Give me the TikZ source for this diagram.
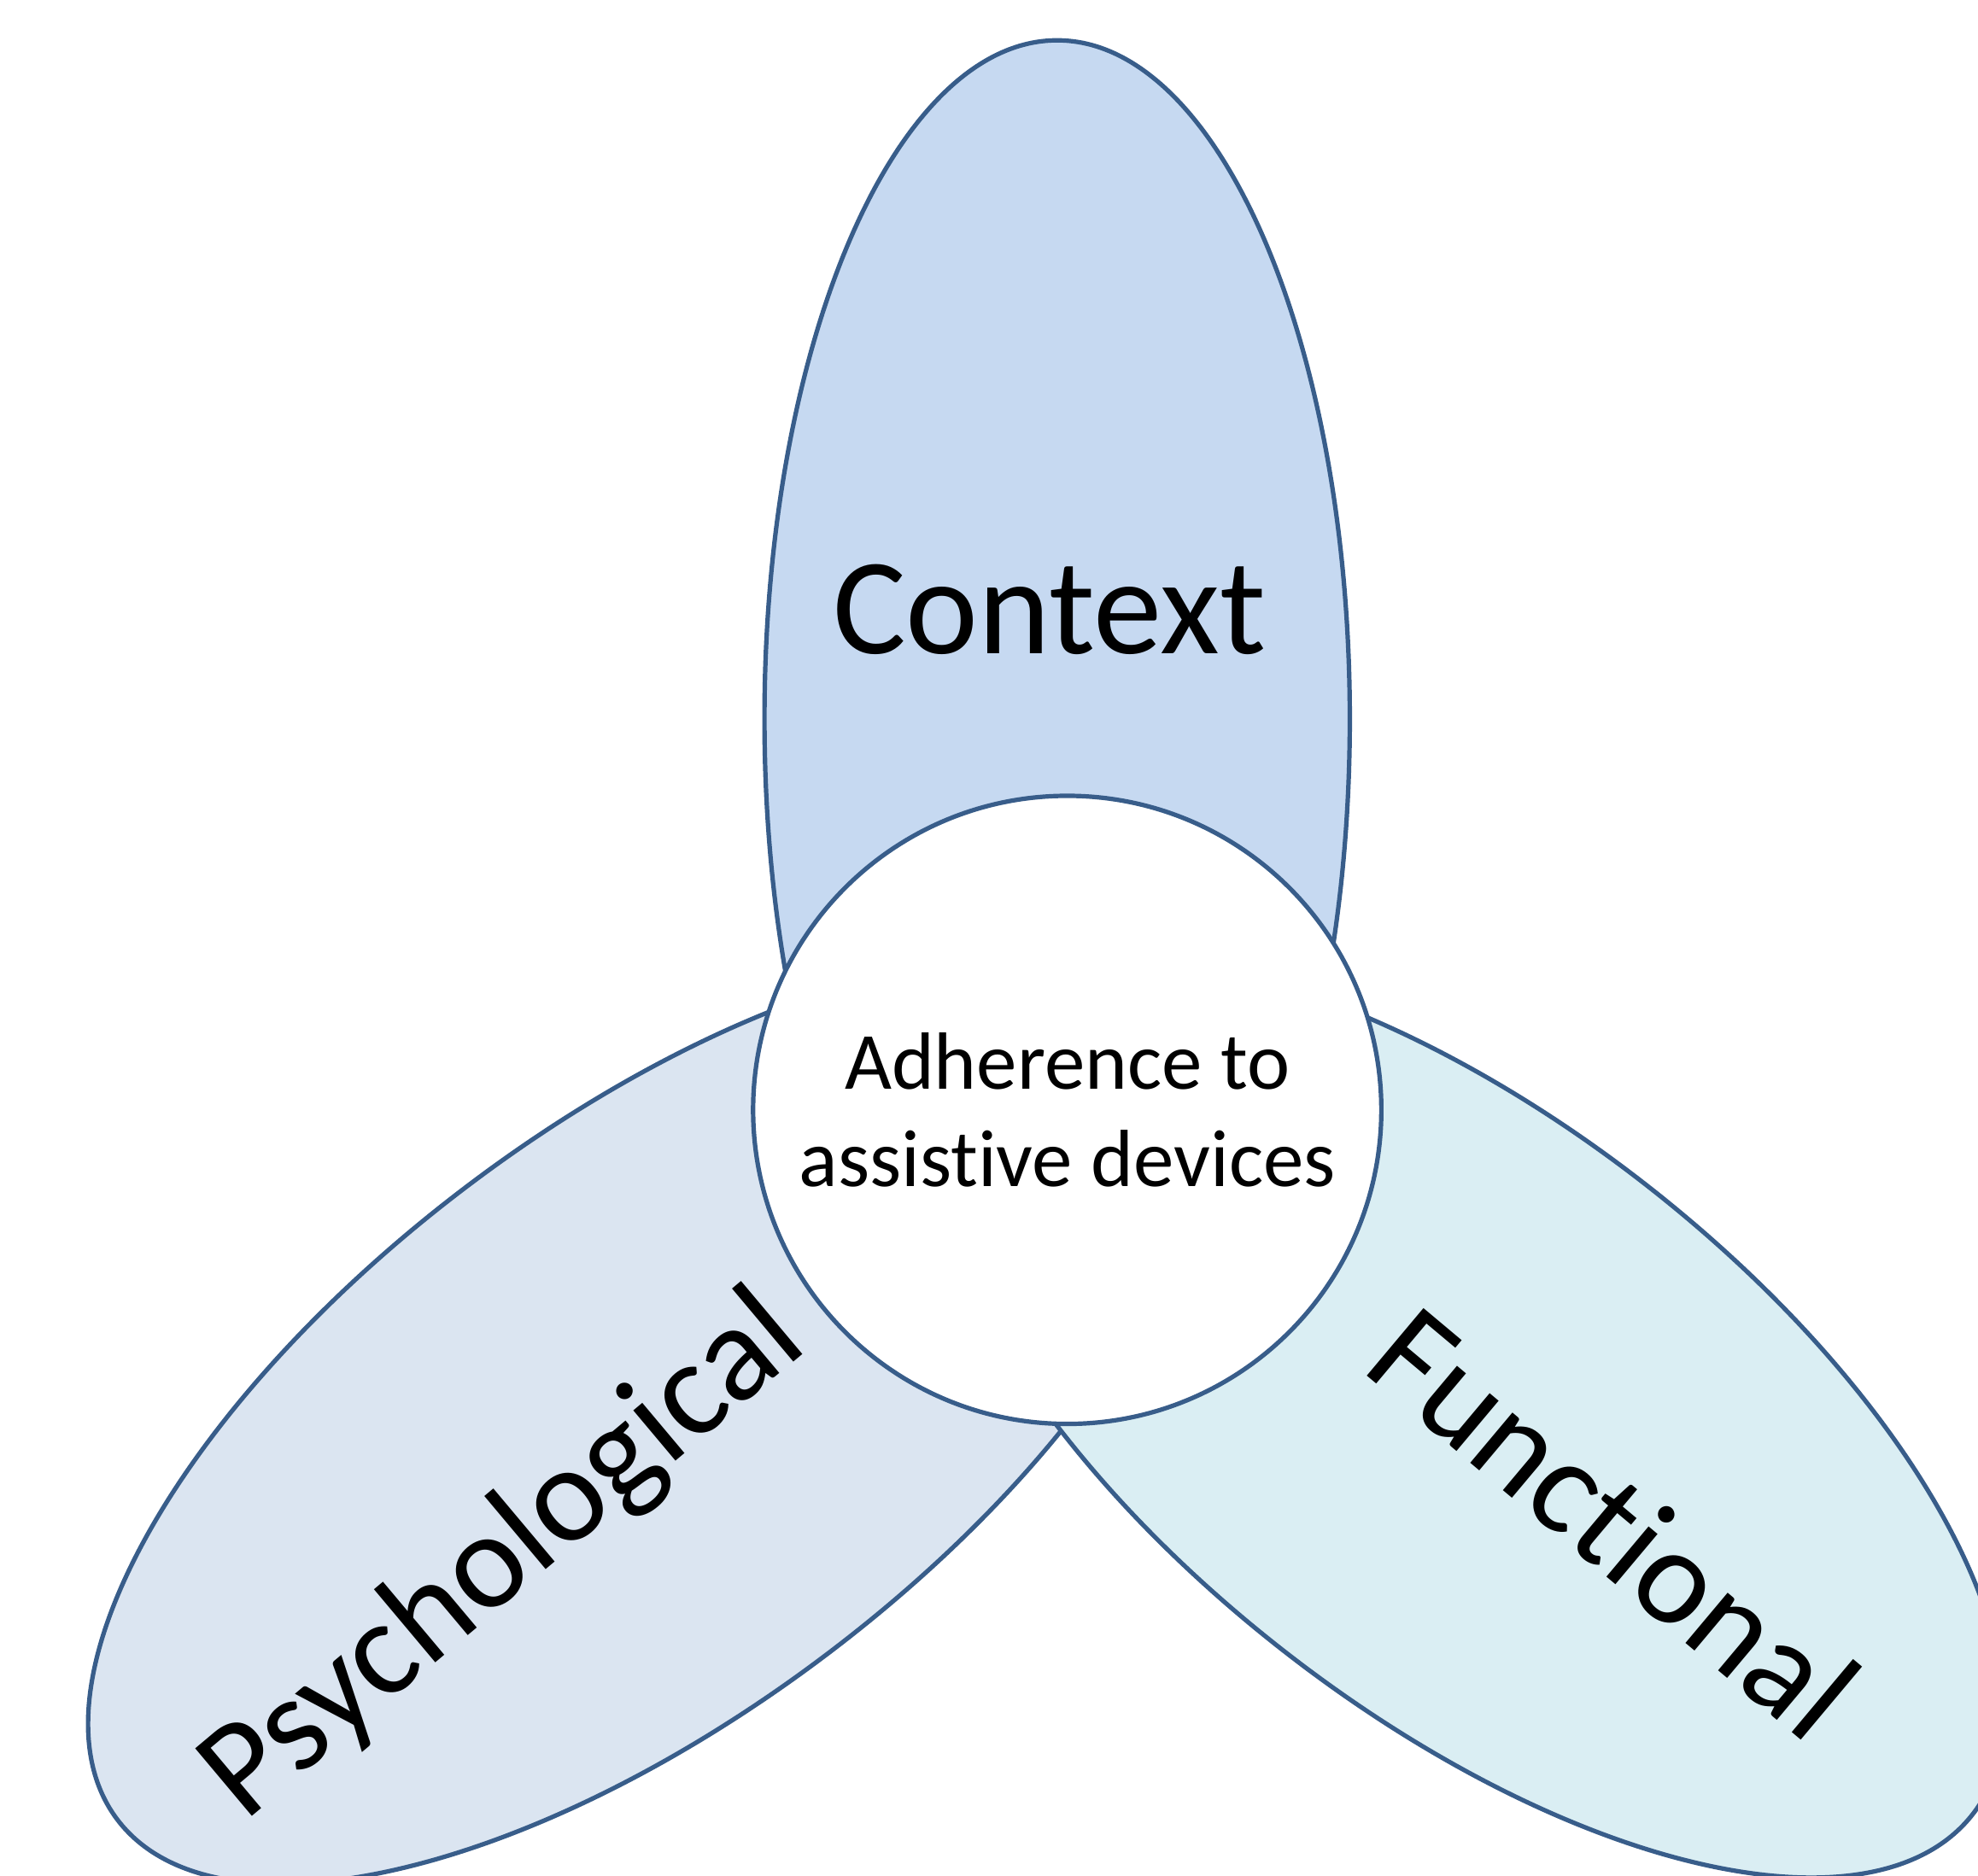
\documentclass[tikz,border=0pt]{standalone}
\usepackage{fontspec}
\setmainfont{Carlito}
\usepackage{tikz}
\definecolor{petalline}{HTML}{385D8A}
\definecolor{contextfill}{HTML}{C6D9F1}
\definecolor{psychfill}{HTML}{DBE5F1}
\definecolor{funcfill}{HTML}{DAEEF3}

\begin{document}
\begin{tikzpicture}[petal/.style={draw=petalline, line width=1pt},
    biglabel/.style={font=\fontsize{31}{37}\selectfont, inner sep=0pt}]

    \useasboundingbox (0,0) rectangle (15.68,14.87);
    \clip (0,0) rectangle (15.68,14.87);

    % three petals
    \draw[petal, fill=contextfill] (8.38,9.17) ellipse (2.32 and 5.38);
    \draw[petal, fill=psychfill, rotate around={37:(5.13,3.61)}] (5.13,3.61) ellipse (5.26 and 2.34);
    \draw[petal, fill=funcfill, rotate around={-38:(11.61,3.63)}] (11.61,3.63) ellipse (5.11 and 2.34);

    % hub (kern0pt keeps t and i apart)
    \node[circle, petal, fill=white, minimum size=4.98cm, align=center,
        font=\fontsize{18.3}{22}\selectfont] (core) at (8.46,6.07) {Adherence to\\assist\kern0pt ive devices};

    \node[biglabel, anchor=base] (context) at (8.32,9.69) {Context};
    \node[biglabel, rotate=40] (psych) at (4.00,2.52) {Psychological};
    \node[biglabel, rotate=-40] (func) at (12.80,2.80) {Funct\kern0pt ional};

\end{tikzpicture}
\end{document}
